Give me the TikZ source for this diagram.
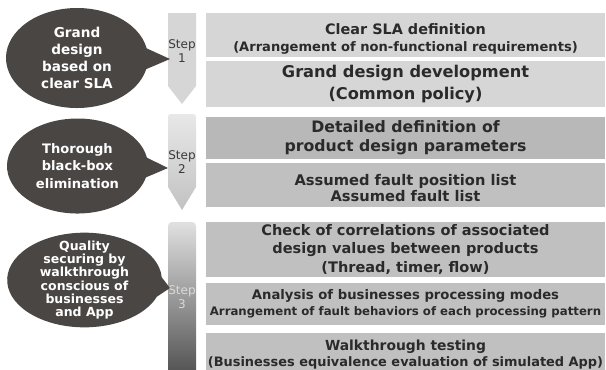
\documentclass[tikz,border=0pt]{standalone}
\usepackage{fontspec}
\setmainfont{DejaVu Sans}
\usetikzlibrary{shapes.callouts}
\definecolor{bubblefill}{HTML}{4A4644}
\definecolor{ink}{HTML}{2A2A2A}
\definecolor{lightbox}{HTML}{D6D6D6}
\definecolor{midbox}{HTML}{B8B8B8}
\definecolor{greybox}{HTML}{C0C0C0}
\definecolor{steplabel}{HTML}{3A3A3A}
\newcommand\fs[2]{\fontsize{#1}{#2}\selectfont}
\begin{document}
\begin{tikzpicture}[x=0.75pt,y=-0.75pt,
  box/.style={rectangle, inner sep=0pt, minimum width=299.25pt, align=center, text=ink},
  bubble/.style={ellipse callout, fill=bubblefill, text=white, align=center,
    inner xsep=-12pt, inner ysep=-12pt, callout pointer arc=24},
  steptext/.style={align=center, inner sep=0pt, font=\fs{9}{10.5}}
]
\useasboundingbox (0,0) rectangle (606,369);
\begin{scope}
\clip (0,0) rectangle (606,369);

% ---- step markers ----
\fill[lightbox] (168,13) -- (196,13) -- (196,86) -- (182,104) -- (168,86) -- cycle;
\shade[top color=black!9, bottom color=black!24, rounded corners=2pt]
  (168,187) -- (168,114) -- (196,114) [sharp corners] -- (196,187) -- (182,210) -- cycle;
\shade[top color=black!12, bottom color=black!70, rounded corners=3pt]
  (168,222) rectangle (196,380);

% ---- step 1 ----
\node[box, fill=lightbox, minimum height=33pt] (s1a) at (405.5,35) {};
\node[box, font=\fs{10.8}{12.5}\bfseries] (s1at) at ([yshift=-3pt]s1a.center)
  {Clear SLA definition\\ \fs{9.8}{12.5}(Arrangement of non-functional requirements)};
\node[box, fill=lightbox, minimum height=34.5pt, font=\fs{12.15}{17}\bfseries] (s1b) at (405.5,84)
  {Grand design development\\ (Common policy)};

% ---- step 2 ----
\node[box, fill=midbox, minimum height=31.5pt, font=\fs{11.8}{14.25}\bfseries] (s2a) at (405.5,138)
  {Detailed definition of\\ product design parameters};
\node[box, fill=greybox, minimum height=33pt] (s2b) at (405.5,185) {};
\node[box, font=\fs{11}{11.5}\bfseries] (s2bt) at ([yshift=-2.2pt]s2b.center)
  {Assumed fault position list\\ Assumed fault list};

% ---- step 3 ----
\node[box, fill=greybox, minimum height=41.25pt, font=\fs{10.9}{13.9}\bfseries] (s3a) at (405.5,249.5)
  {Check of correlations of associated\\ design values between products\\ (Thread, timer, flow)};
\node[box, fill=greybox, minimum height=31.5pt, font=\fs{9.9}{12}\bfseries] (s3b) at (405.5,304)
  {Analysis of businesses processing modes\\
   \fs{8.8}{12}Arrangement of fault behaviors of each processing pattern};
\node[box, fill=greybox, minimum height=33pt, font=\fs{10.4}{12}\bfseries] (s3c) at (405.5,355)
  {Walkthrough testing\\ \fs{9.7}{12}(Businesses equivalence evaluation of simulated App)};

% ---- step labels ----
\node[steptext, text=steplabel] (st1) at (182,51) {Step\\1};
\node[steptext, text=steplabel] (st2) at (182,162) {Step\\2};
\node[steptext, text=white!85!black] (st3) at (182,297) {Step\\3};

% ---- callout bubbles ----
\coordinate (p1) at (170,59);
\coordinate (p2) at (168,168);
\coordinate (p3) at (170,288);
\node[bubble, minimum width=106.5pt, minimum height=75pt, callout absolute pointer={(p1)},
  font=\fs{10.2}{12.75}\bfseries] (b1) at (77,58)
  {Grand\\ design\\ based on\\ clear SLA};
\node[bubble, minimum width=105.75pt, minimum height=71.25pt, callout absolute pointer={(p2)},
  font=\fs{9.8}{13.1}\bfseries] (b2) at (77.5,166)
  {Thorough\\ black-box\\ elimination};
\node[bubble, minimum width=116pt, minimum height=71pt, callout absolute pointer={(p3)},
  font=\fs{9.4}{10}\bfseries] (b3) at (84.5,280)
  {Quality\\ securing by\\ walkthrough\\ conscious of\\ businesses\\ and App};
\end{scope}
\end{tikzpicture}
\end{document}
